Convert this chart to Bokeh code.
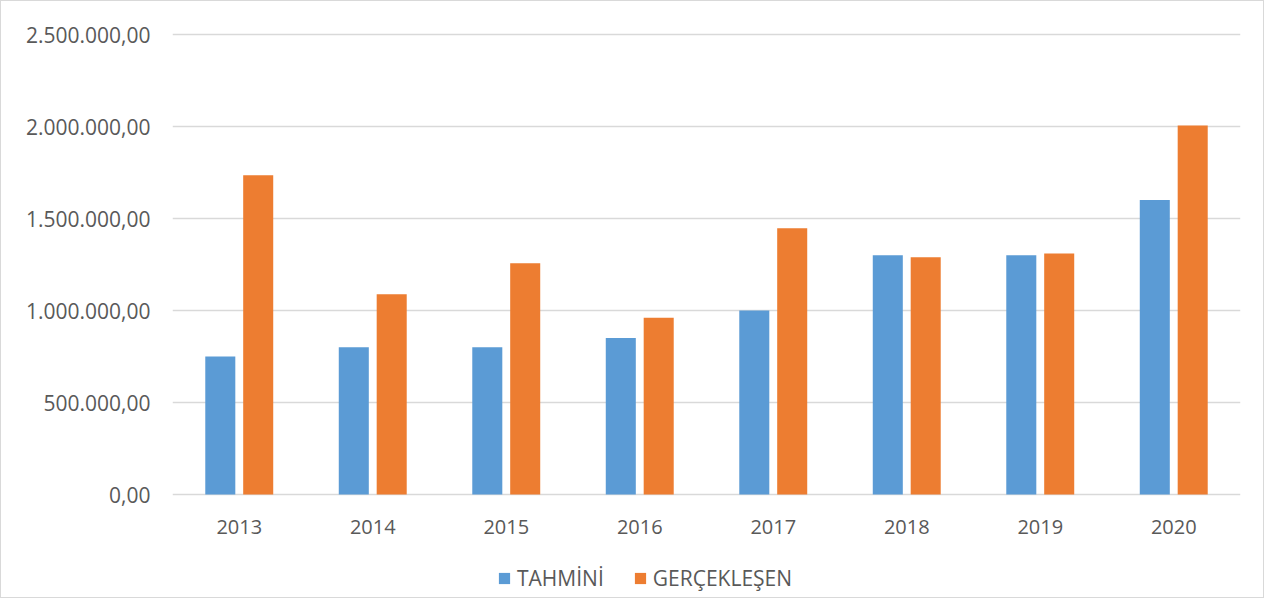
from bokeh.plotting import figure
from bokeh.models import ColumnDataSource, Range1d, FactorRange, FixedTicker, Legend, LegendItem
from bokeh.core.properties import value
from bokeh.transform import dodge
from bokeh.embed import file_html
from bokeh.resources import INLINE

years = ["2013", "2014", "2015", "2016", "2017", "2018", "2019", "2020"]
tahmini = [750000, 800000, 800000, 850000, 1000000, 1300000, 1300000, 1600000]
gerceklesen = [1735000, 1088000, 1257000, 960000, 1447000, 1290000, 1310000, 2006000]
y_ticks = [0, 500000, 1000000, 1500000, 2000000, 2500000]
y_tick_labels = ["0,00", "500.000,00", "1.000.000,00", "1.500.000,00", "2.000.000,00", "2.500.000,00"]
series_names = ["TAHMİNİ", "GERÇEKLEŞEN"]

BLUE = "#5B9BD5"
ORANGE = "#ED7D31"
GRID = "#d9d9d9"
TEXT = "#595959"
FONT = "Open Sans"

src = ColumnDataSource(dict(year=years, t=tahmini, g=gerceklesen, base=[0] * len(years)))

# frame: 462 px for the 0 .. 2,510,870 span, extended 103 px below zero
# so that category labels and legend sit inside the frame
PX = 2510870 / 462.0
p = figure(
    x_range=FactorRange(*years, range_padding=0.0),
    y_range=Range1d(-103 * PX, 2510870),
    frame_width=1068, frame_height=565,
    output_backend="svg", toolbar_location=None,
    min_border_left=171, min_border_right=23,
    min_border_top=31, min_border_bottom=0,
)
p.outline_line_color = None
p.background_fill_color = "white"
p.border_fill_color = "white"
p.styles = {"border": "1px solid #d9d9d9", "box-sizing": "border-box"}

r1 = p.vbar(x=dodge("year", -0.142, range=p.x_range), top="t", width=0.225,
            source=src, fill_color=BLUE, line_color=None)
r2 = p.vbar(x=dodge("year", 0.142, range=p.x_range), top="g", width=0.225,
            source=src, fill_color=ORANGE, line_color=None)

# category labels (x axis) placed just below the zero line
p.text(x="year", y="base", text="year", source=src, y_offset=32,
       text_align="center", text_baseline="middle",
       text_font=value(FONT), text_font_size="20px", text_color=TEXT)

# y axis
p.yaxis.ticker = FixedTicker(ticks=y_ticks)
p.yaxis.major_label_overrides = {t: l for t, l in zip(y_ticks, y_tick_labels)}
p.yaxis.axis_line_color = None
p.yaxis.major_tick_line_color = None
p.yaxis.minor_tick_line_color = None
p.yaxis.major_tick_in = 0
p.yaxis.major_tick_out = 0
p.yaxis.major_label_standoff = 22
p.yaxis.major_label_text_font = FONT
p.yaxis.major_label_text_font_size = "21px"
p.yaxis.major_label_text_color = TEXT

p.xaxis.visible = False

p.xgrid.grid_line_color = None
p.ygrid.grid_line_color = GRID
p.ygrid.grid_line_width = 1.5
p.ygrid.ticker = FixedTicker(ticks=y_ticks)

legend = Legend(
    items=[LegendItem(label=series_names[0], renderers=[r1]),
           LegendItem(label=series_names[1], renderers=[r2])],
    orientation="horizontal", location=(325, 5),
    glyph_width=14, glyph_height=14, label_standoff=6, spacing=29,
    label_text_font=FONT, label_text_font_size="21px", label_text_color=TEXT,
    border_line_color=None, background_fill_alpha=0, margin=0, padding=0,
)
p.add_layout(legend, "center")

open("out.html", "w").write(file_html(p, INLINE))
